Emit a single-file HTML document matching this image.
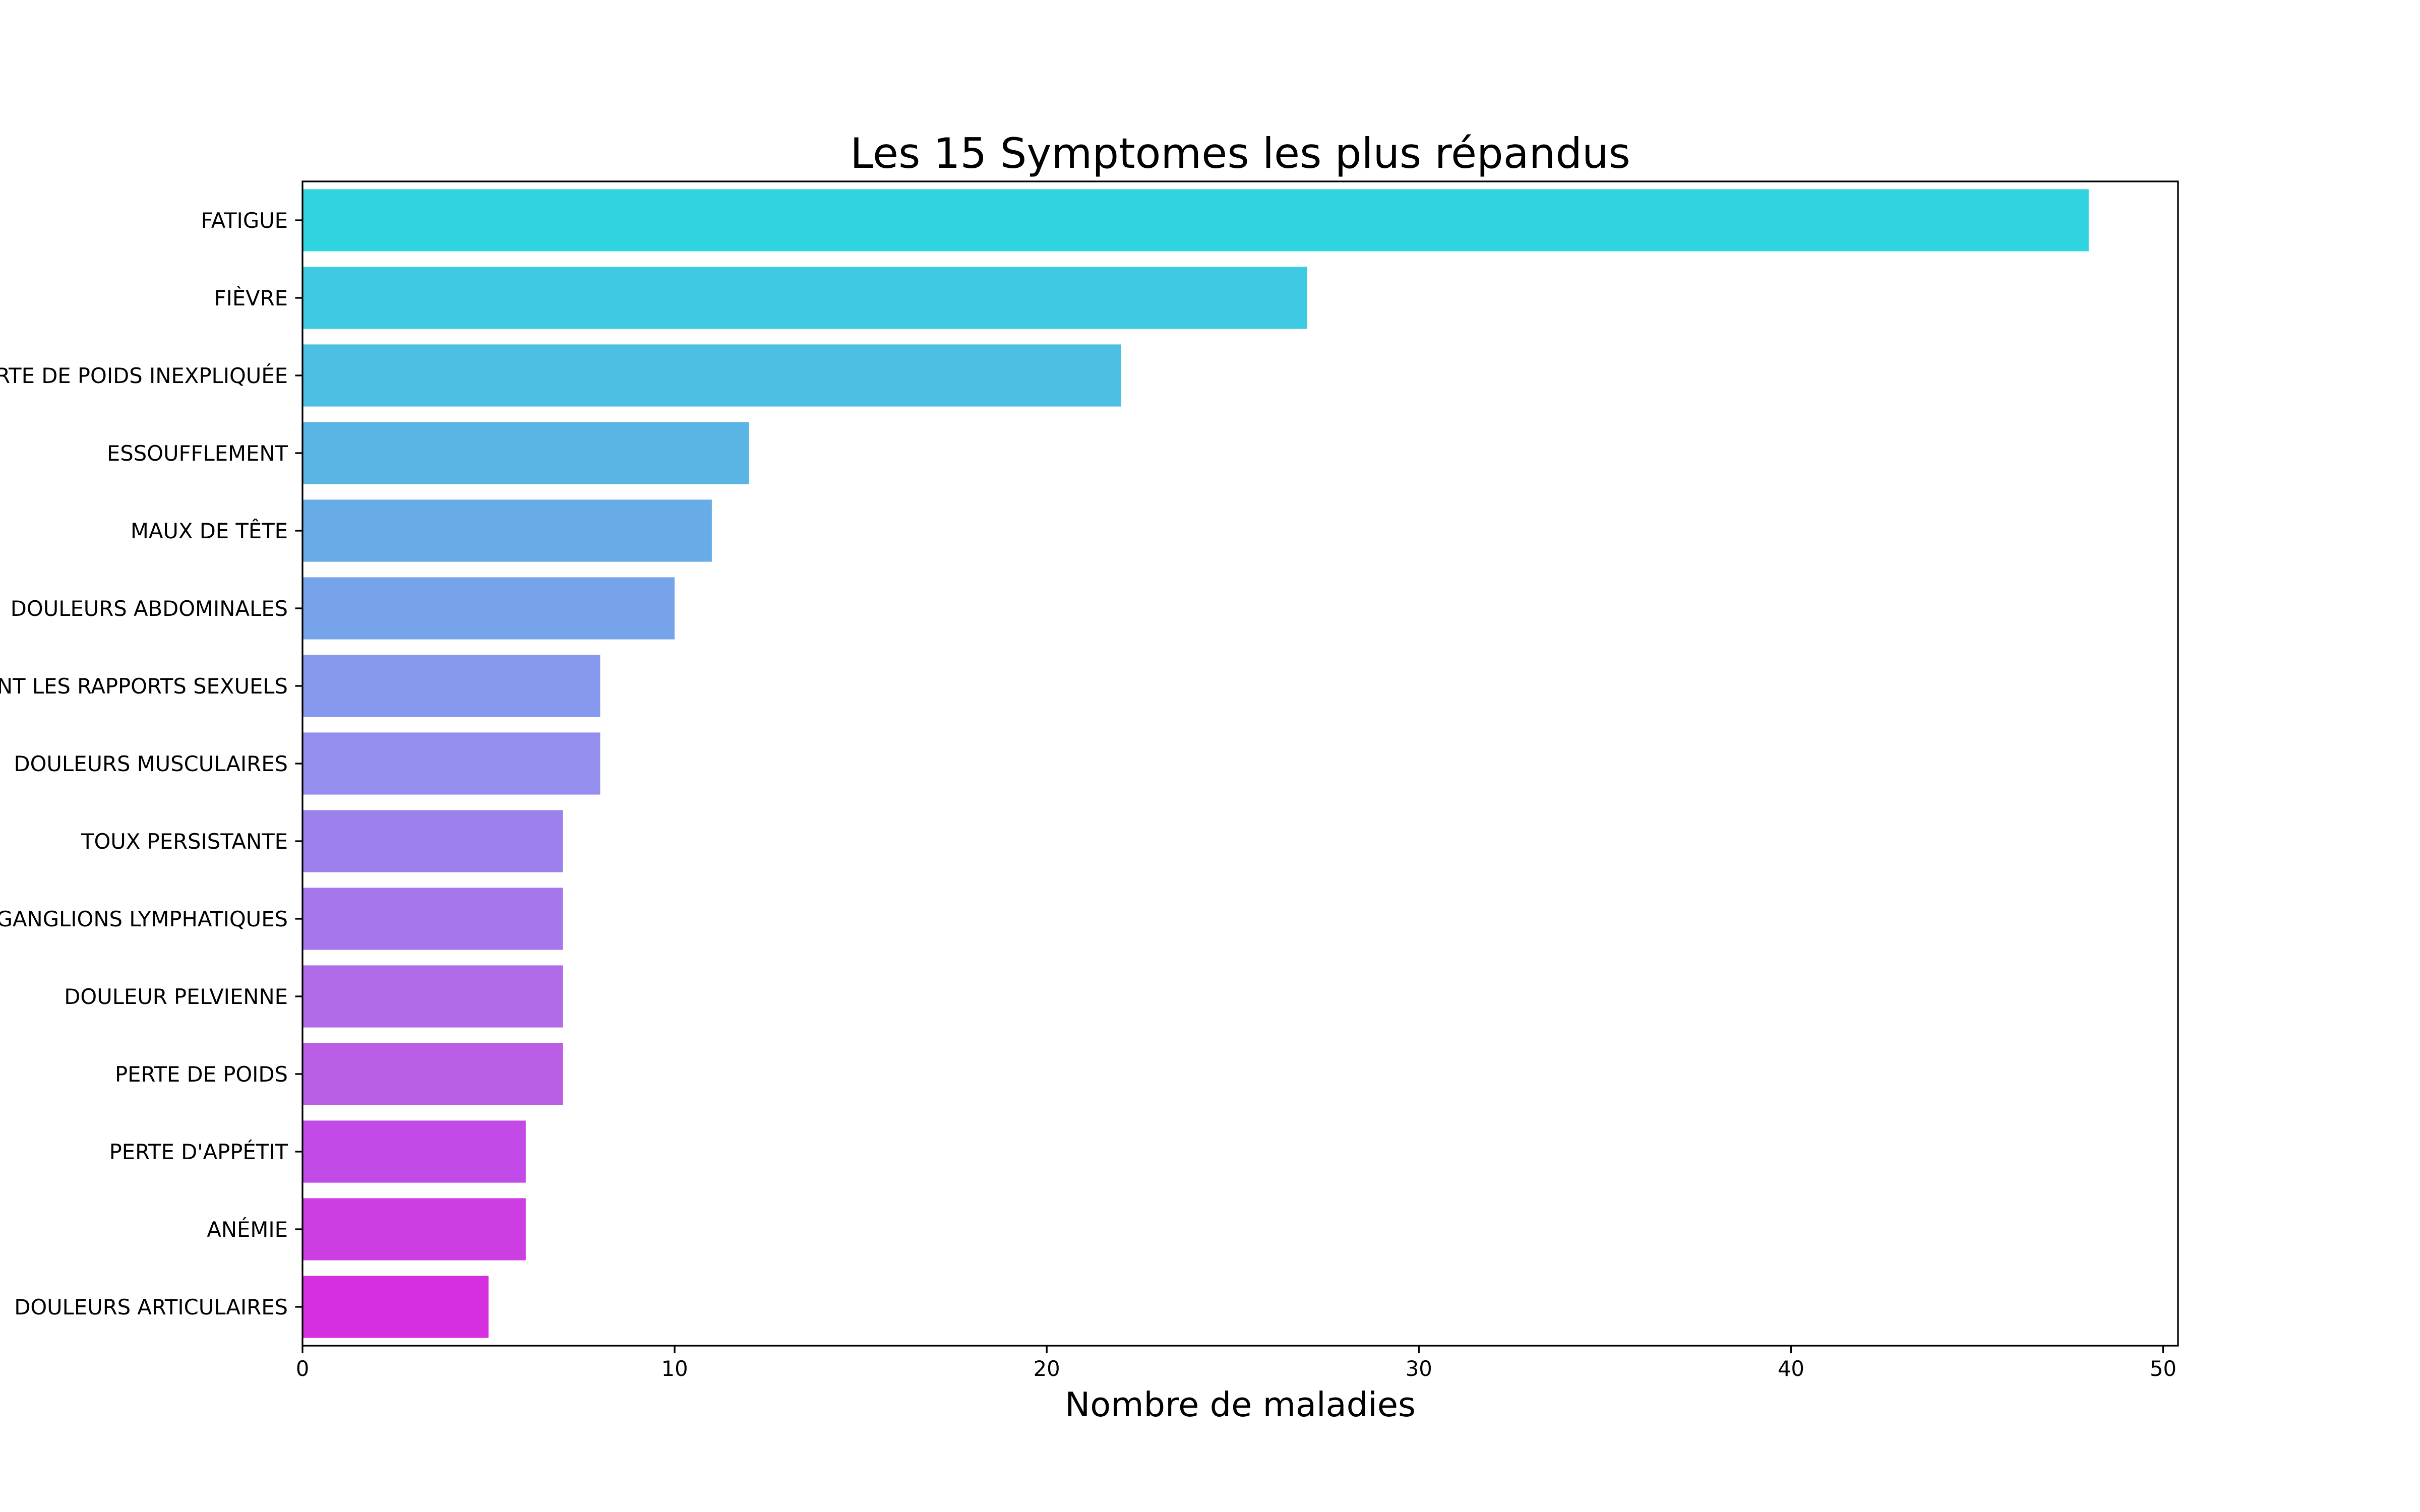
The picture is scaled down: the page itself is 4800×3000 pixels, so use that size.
<!DOCTYPE html>
<html><head><meta charset="utf-8"><style>
html,body{margin:0;padding:0;background:#fff;}
svg{display:block;font-family:"DejaVu Sans","Liberation Sans",sans-serif;}
</style></head><body>
<svg id="chart" width="4800" height="3000" viewBox="0 0 4800 3000" xmlns="http://www.w3.org/2000/svg">
<rect width="4800" height="3000" fill="#fff"/>
<text x="2460" y="333" font-size="83" text-anchor="middle">Les 15 Symptomes les plus répandus</text>
<g id="bars"></g>
<g id="yticks"></g>
<g id="xticks"></g>
<rect x="600" y="360" width="3720" height="2310" fill="none" stroke="#000" stroke-width="3.3"/>
<text x="2460" y="2810" font-size="67" text-anchor="middle">Nombre de maladies</text>
</svg>
<script>
const categories = ["FATIGUE","FIÈVRE","PERTE DE POIDS INEXPLIQUÉE","ESSOUFFLEMENT","MAUX DE TÊTE","DOULEURS ABDOMINALES","DOULEUR PENDANT LES RAPPORTS SEXUELS","DOULEURS MUSCULAIRES","TOUX PERSISTANTE","GONFLEMENT DES GANGLIONS LYMPHATIQUES","DOULEUR PELVIENNE","PERTE DE POIDS","PERTE D'APPÉTIT","ANÉMIE","DOULEURS ARTICULAIRES"];
const values = [48,27,22,12,11,10,8,8,7,7,7,7,6,6,5];
const xTicks = [0,10,20,30,40,50];
const colors = ["#2fd4e0","#3ecae2","#4cc0e3","#5ab5e5","#67ace7","#77a3ea","#8699ee","#948eee","#9c81ed","#a676ec","#b16ae8","#b95ee5","#c24ae6","#cc3de2","#d52fe0"];
const NS="http://www.w3.org/2000/svg";
const L=600,R=4320,T=360,B=2670;
const xMax=Math.max(...values)*1.05;
const xs=v=>L+(v/xMax)*(R-L);
const band=(B-T)/categories.length;
const yc=i=>T+band*(i+0.5);
const bars=document.getElementById('bars'),yt=document.getElementById('yticks'),xt=document.getElementById('xticks');
categories.forEach((c,i)=>{
  const r=document.createElementNS(NS,'rect');
  
  
  r.setAttribute('x',xs(0));r.setAttribute('y',yc(i)-band*0.4);
  r.setAttribute('width',xs(values[i])-xs(0));r.setAttribute('height',band*0.8);
  r.setAttribute('fill',colors[i%colors.length]);
  bars.appendChild(r);
  const tk=document.createElementNS(NS,'line');
  
  
  tk.setAttribute('x1',L-14.6);tk.setAttribute('x2',L);tk.setAttribute('y1',yc(i));tk.setAttribute('y2',yc(i));
  tk.setAttribute('stroke','#000');tk.setAttribute('stroke-width','3.3');
  yt.appendChild(tk);
  const t=document.createElementNS(NS,'text');
  
  
  t.setAttribute('x',L-29);t.setAttribute('y',yc(i)+15);
  t.setAttribute('font-size','41.7');t.setAttribute('text-anchor','end');
  t.textContent=c;yt.appendChild(t);
});
xTicks.forEach(v=>{
  const tk=document.createElementNS(NS,'line');
  
  
  tk.setAttribute('x1',xs(v));tk.setAttribute('x2',xs(v));tk.setAttribute('y1',B);tk.setAttribute('y2',B+14.6);
  tk.setAttribute('stroke','#000');tk.setAttribute('stroke-width','3.3');
  xt.appendChild(tk);
  const t=document.createElementNS(NS,'text');
  
  
  t.setAttribute('x',xs(v));t.setAttribute('y',B+60);
  t.setAttribute('font-size','41.7');t.setAttribute('text-anchor','middle');
  t.textContent=v;xt.appendChild(t);
});
</script>
</body></html>
